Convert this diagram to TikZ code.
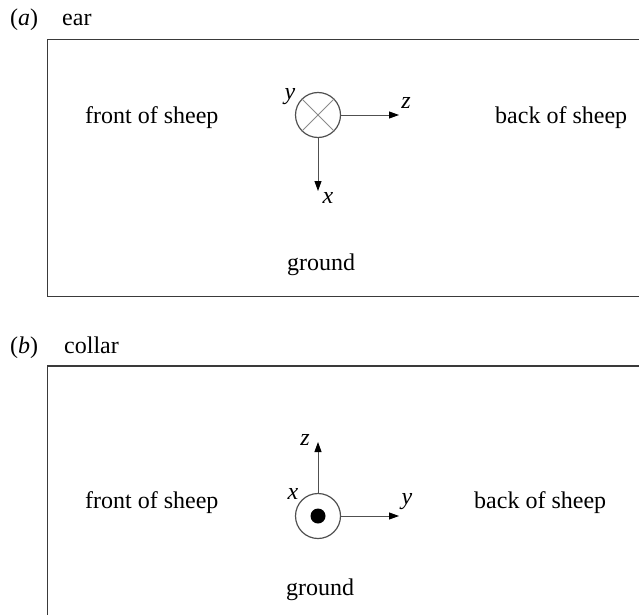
\documentclass[tikz,border=0pt]{standalone}
\usepackage{fontspec}
\setmainfont{Liberation Serif}
\usetikzlibrary{arrows.meta}
\definecolor{framec}{HTML}{3A3A3A}
\definecolor{axisc}{HTML}{505050}
\definecolor{crossc}{HTML}{8A8A8A}
\begin{document}
\begin{tikzpicture}[x=1pt,y=-1pt,
  lbl/.style={anchor=base west,inner sep=0pt,font=\fontsize{24}{28}\selectfont},
  axl/.style={inner sep=0pt,font=\fontsize{24}{28}\selectfont\itshape},
  frame/.style={draw=framec,line width=1.4pt},
  axis/.style={draw=axisc,line width=0.9pt,-{Triangle[length=10pt,width=7pt,color=black,fill=black]}},
  ring/.style={circle,draw=axisc,line width=1.2pt,minimum size=45pt,inner sep=0pt}]
\useasboundingbox (0,0) rectangle (639,615);
% panel (a)
\node[lbl] (pa) at (10,26) {(\textit{a})};
\node[lbl] (ea) at (62,26) {ear};
\draw[frame] (639,39.5) -- (47.5,39.5) -- (47.5,296.5) -- (639,296.5);
\node[lbl] (fa) at (85,123) {front of sheep};
\node[lbl] (ba) at (495,123) {back of sheep};
\node[lbl] (ga) at (287,270) {ground};
\node[ring] (ca) at (318,115) {};
\draw[crossc,line width=0.9pt] (ca.45) -- (ca.225) (ca.135) -- (ca.-45);
\coordinate (xa) at (318,191);
\coordinate (za) at (399,115);
\draw[axis] (ca.south) -- (xa);
\draw[axis] (ca.east) -- (za);
\node[axl] (ya) at (290,97) {y};
\node[axl] (zal) at (406,103) {z};
\node[axl] (xal) at (328,198) {x};
% panel (b)
\node[lbl] (pb) at (10,353) {(\textit{b})};
\node[lbl] (cl) at (64,353) {collar};
\draw[frame] (639,366) -- (47.5,366) -- (47.5,615);
\node[lbl] (fb) at (85,508) {front of sheep};
\node[lbl] (bb) at (474,508) {back of sheep};
\node[lbl] (gb) at (286,595) {ground};
\node[ring] (cb) at (318,516) {};
\fill[black] (cb.center) circle (7.5);
\coordinate (zb) at (318,442);
\coordinate (yb) at (399,516);
\draw[axis] (cb.north) -- (zb);
\draw[axis] (cb.east) -- (yb);
\node[axl] (zbl) at (305,440) {z};
\node[axl] (xbl) at (293,494) {x};
\node[axl] (ybl) at (407,502) {y};
\end{tikzpicture}
\end{document}
